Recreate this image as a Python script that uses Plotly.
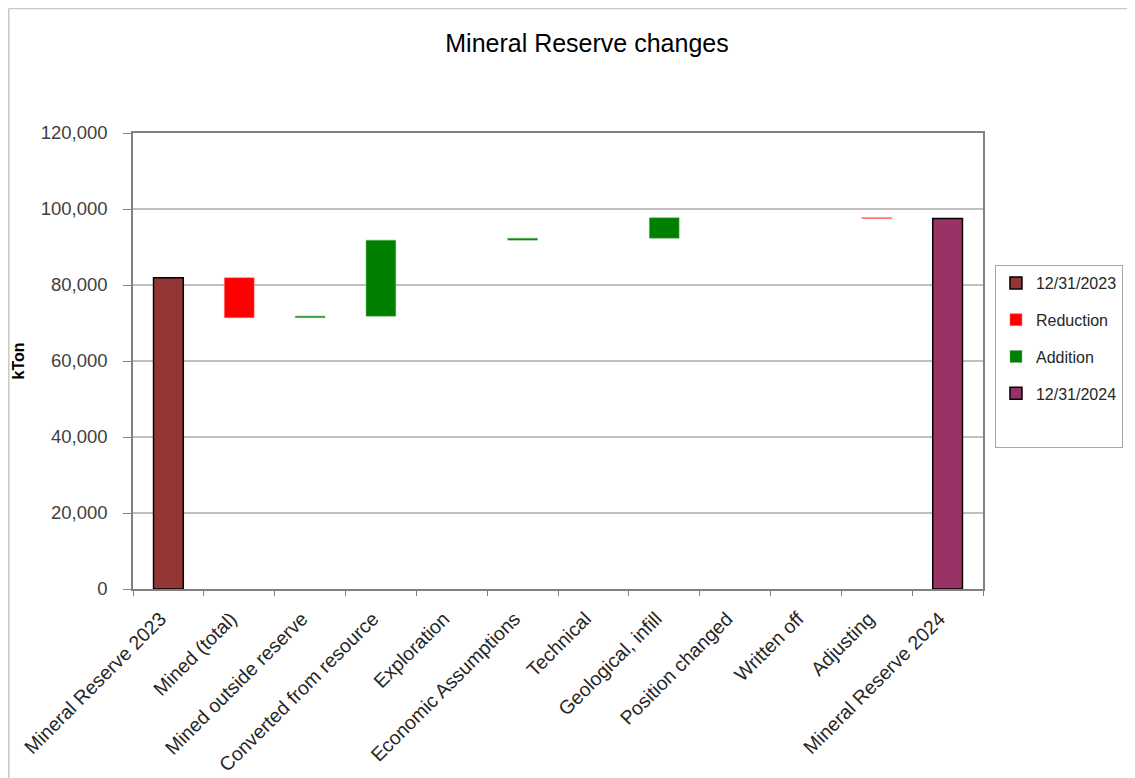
import plotly.graph_objects as go

categories = ["Mineral Reserve 2023", "Mined (total)", "Mined outside reserve",
              "Converted from resource", "Exploration", "Economic Assumptions",
              "Technical", "Geological, infill", "Position changed", "Written off",
              "Adjusting", "Mineral Reserve 2024"]
start_value = 81900
changes = [-10500, 400, 20000, 0, 500, 0, 5400, 0, 0, -200]
y_ticks = [0, 20000, 40000, 60000, 80000, 100000, 120000]

# compute waterfall segments
red_x, red_y, red_base = [], [], []
grn_x, grn_y, grn_base = [], [], []
cum = start_value
for cat, ch in zip(categories[1:-1], changes):
    if ch < 0:
        red_x.append(cat); red_y.append(-ch); red_base.append(cum + ch)
    elif ch > 0:
        grn_x.append(cat); grn_y.append(ch); grn_base.append(cum)
    cum += ch
end_value = cum

fig = go.Figure()
fig.add_trace(go.Bar(x=[categories[0]], y=[start_value], name="12/31/2023",
                     marker=dict(color="#943634", line=dict(color="#000000", width=1.5)),
                     width=0.42, legendgroup="a"))
fig.add_trace(go.Bar(x=red_x, y=red_y, base=red_base, name="Reduction",
                     marker=dict(color="#FF0000", line=dict(color="#FF6666", width=0.5)),
                     width=0.42, legendgroup="b"))
fig.add_trace(go.Bar(x=grn_x, y=grn_y, base=grn_base, name="Addition",
                     marker=dict(color="#008000", line=dict(color="#66B266", width=0.5)),
                     width=0.42, legendgroup="c"))
fig.add_trace(go.Bar(x=[categories[-1]], y=[end_value], name="12/31/2024",
                     marker=dict(color="#993366", line=dict(color="#000000", width=1.5)),
                     width=0.42, legendgroup="d"))
# blank legend row to reproduce the empty space at the bottom of the legend box
fig.add_trace(go.Scatter(x=[categories[0]], y=[None], mode="none", name=" ",
                         showlegend=True, hoverinfo="skip", legendgroup="e"))

# the page adds an 8px body margin, so figure coordinates = page coordinates - 8
OFF = 8
W, H = 1135 - OFF, 778 - OFF
L, T = 133 - OFF, 133 - OFF
pw, ph = 852, 456
R, B = W - L - pw, H - T - ph


def px(fx):  # figure x -> paper x
    return (fx - L) / pw


def py(fy):  # figure y (from top) -> paper y
    return (H - B - fy) / ph


fig.update_layout(
    width=W, height=H,
    margin=dict(l=L, r=R, t=T, b=B),
    paper_bgcolor="white", plot_bgcolor="white",
    barmode="overlay",
    font=dict(family="Liberation Sans, Arial, sans-serif", size=15, color="#404040"),
    title=dict(text="Mineral Reserve changes", x=(587 - OFF) / W, xanchor="center",
               y=1 - (43 - OFF) / H, yanchor="middle",
               font=dict(size=25, color="#000000")),
    xaxis=dict(type="category", categoryorder="array", categoryarray=categories,
               tickangle=-45, tickson="boundaries", ticks="outside", ticklen=5,
               tickcolor="#808080", showline=True, linecolor="#808080", linewidth=1.5,
               mirror=True, showgrid=False, range=[-0.5, len(categories) - 0.5],
               automargin=False, ticklabelstandoff=9, ticklabelshift=-8,
               tickfont=dict(size=19.5, color="#262626")),
    yaxis=dict(range=[0, 120000], tickvals=y_ticks, tickformat=",",
               ticks="outside", ticklen=8, tickcolor="#808080", ticklabelstandoff=12,
               showline=True, linecolor="#808080", linewidth=1.5, mirror=True,
               showgrid=True, gridcolor="#BFBFBF", gridwidth=1.5,
               zeroline=False, automargin=False,
               title=dict(text="<b>kTon</b>", font=dict(size=16, color="#000000"), standoff=12),
               tickfont=dict(size=18.5, color="#404040")),
    legend=dict(x=px(997 - OFF), xanchor="left", y=py(265 - OFF), yanchor="top",
                bordercolor="#A6A6A6", borderwidth=1, bgcolor="white",
                font=dict(size=16, color="#262626"), tracegroupgap=13,
                traceorder="grouped", itemwidth=30),
    shapes=[
        dict(type="line", xref="paper", yref="paper",
             x0=px(0.5), x1=px(0.5), y0=py(0.5), y1=py(H),
             line=dict(color="#C8C8C8", width=1.5), layer="below"),
        dict(type="line", xref="paper", yref="paper",
             x0=px(0.5), x1=px(W), y0=py(0.5), y1=py(0.5),
             line=dict(color="#C8C8C8", width=1.5), layer="below"),
    ],
)

fig.write_html("out.html")
